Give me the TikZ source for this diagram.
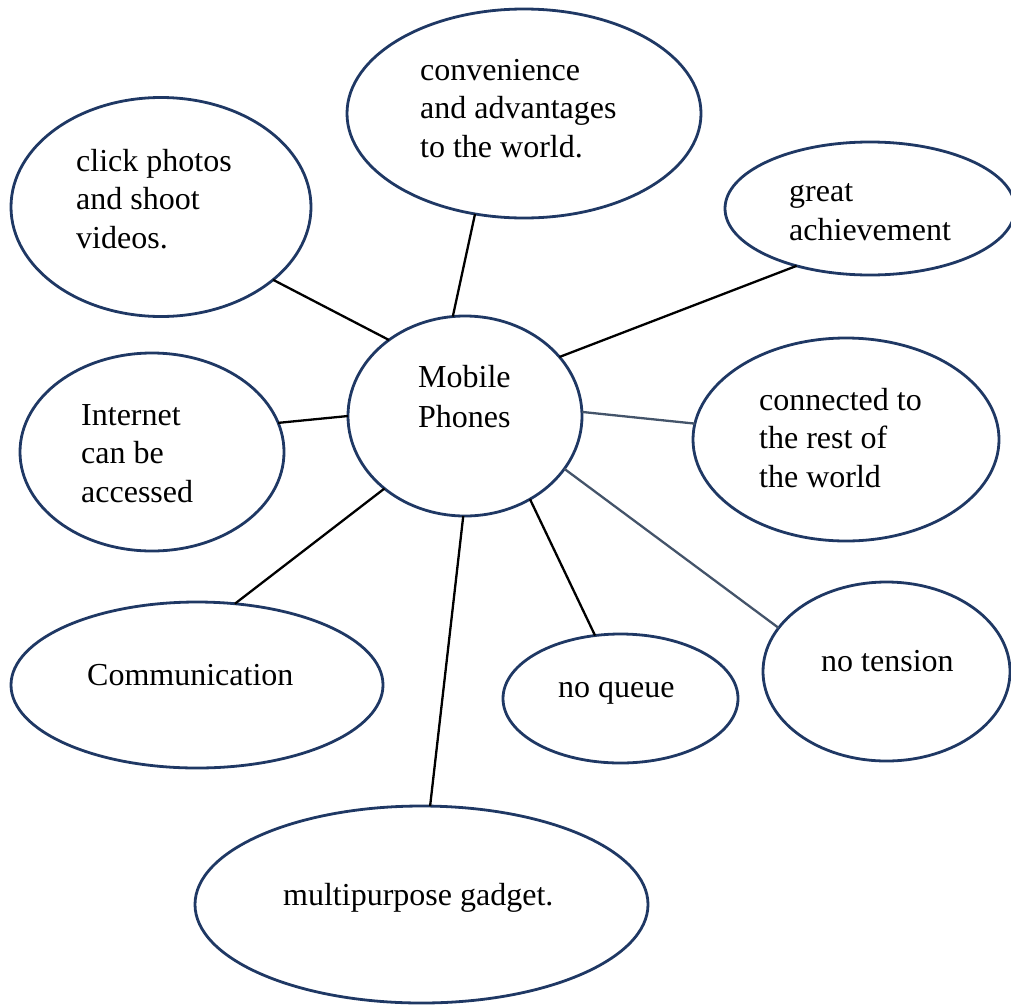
\documentclass[tikz,border=0pt]{standalone}
\usepackage{fontspec}
\setmainfont{Liberation Serif}
\usetikzlibrary{shapes.geometric}
\definecolor{bubbleline}{HTML}{1F3864}
\definecolor{greyline}{HTML}{44546A}
\begin{document}
\begin{tikzpicture}[x=1pt,y=-1pt,
        bubble/.style={ellipse,draw=bubbleline,line width=2.8pt,inner sep=0pt,outer sep=0pt},
        words/.style={anchor=base west,inner sep=0pt,align=left,font=\fontsize{32}{38.5}\selectfont},
        link/.style={line width=2.3pt},
        greylink/.style={line width=2.3pt,draw=greyline}]
            \useasboundingbox (0,0) rectangle (1011,1004);

            \node[bubble,minimum width=234pt,minimum height=200pt] (mobile) at (465,416) {};
            \node[bubble,minimum width=354pt,minimum height=209pt] (conv) at (524,113.5) {};
            \node[bubble,minimum width=300pt,minimum height=219pt] (click) at (161,207) {};
            \node[bubble,minimum width=290pt,minimum height=133pt] (great) at (870,208.5) {};
            \node[bubble,minimum width=264pt,minimum height=198pt] (inet) at (152,452) {};
            \node[bubble,minimum width=306pt,minimum height=203pt] (conn) at (846,439.5) {};
            \node[bubble,minimum width=372pt,minimum height=166pt] (comm) at (197,685) {};
            \node[bubble,minimum width=235pt,minimum height=129pt] (queue) at (620.5,698.5) {};
            \node[bubble,minimum width=247pt,minimum height=179pt] (tension) at (886.5,671.5) {};
            \node[bubble,minimum width=453pt,minimum height=197pt] (multi) at (421.5,904.5) {};

            \node[words,font=\fontsize{32}{40}\selectfont] (mobiletext) at (418,427) {Mobile\\Phones};
            \node[words] (convtext) at (420,157) {convenience\\and advantages\\to the world.};
            \node[words] (clicktext) at (76,248) {click photos\\and shoot\\videos.};
            \node[words] (greattext) at (789,240) {great\\achievement};
            \node[words] (inettext) at (81,502) {Internet\\can be\\accessed};
            \node[words] (conntext) at (759,487) {connected to\\the rest of\\the world};
            \node[words] (commtext) at (87,685) {Communication};
            \node[words] (queuetext) at (558,697) {no queue};
            \node[words] (tensiontext) at (821,671) {no tension};
            \node[words] (multitext) at (283,905) {multipurpose gadget.};

            \draw[link] (click.-33) -- (mobile.135);
            \draw[link] (conv.244) -- (mobile.97);
            \draw[link] (great.218) -- (mobile.32);
            \draw[link] (inet.13) -- (mobile.180);
            \draw[greylink] (mobile.2) -- (conn.174);
            \draw[link] (comm.65) -- (mobile.222);
            \draw[link] (multi.85) -- (mobile.269);
            \draw[link] (mobile.308) -- (queue.112);
            \draw[greylink] (mobile.332) -- (tension.158);
        \end{tikzpicture}
\end{document}
